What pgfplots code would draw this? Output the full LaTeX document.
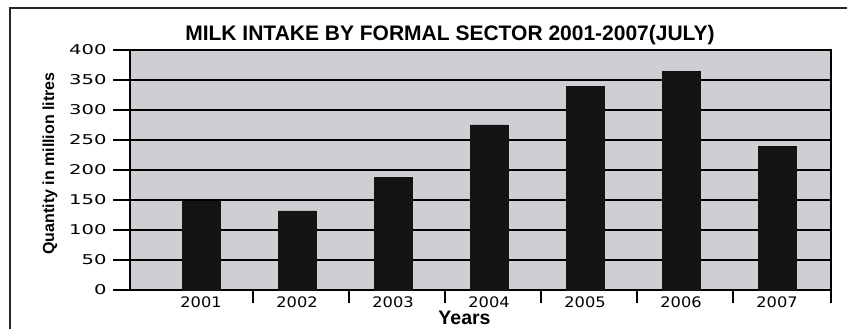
\documentclass[border=0pt]{standalone}
\usepackage{pgfplots}
\pgfplotsset{compat=1.18}
\usepackage{fontspec}
\usepackage{graphicx}
\setmainfont{Liberation Sans}
\newfontfamily\tickfont{DejaVu Sans}
\newcommand\wx[1]{\scalebox{1.12}[1]{#1}}
\definecolor{bgray}{RGB}{206,207,211}
\definecolor{barblk}{RGB}{20,20,20}
\begin{document}
\begin{tikzpicture}[x=1bp,y=1bp]
\useasboundingbox (0,0) rectangle (847,328);
\draw[line width=1.8bp,black!85] (10,-5) -- (10,320) -- (852,320);
\begin{axis}[
  at={(130bp,38bp)}, anchor=south west,
  scale only axis, width=701bp, height=240bp,
  xmin=-0.74, xmax=6.5625, ymin=0, ymax=400,
  axis background/.style={fill=bgray},
  axis line style={line width=1.8bp},
  ytick={0,50,...,400},
  ymajorgrids, major grid style={line width=1.6bp, black},
  xtick={0,...,6},
  xticklabels={\wx{2001},\wx{2002},\wx{2003},\wx{2004},\wx{2005},\wx{2006},\wx{2007}},
  minor xtick={0.54,1.54,2.54,3.54,4.54,5.54,6.5625},
  xtick pos=bottom, ytick pos=left,
  x tick style={draw=none},
  minor x tick style={draw=black, line width=1.6bp},
  minor tick length=13bp,
  y tick style={line width=1.6bp, black},
  major tick length=17bp,
  tick align=outside,
  /pgf/number format/assume math mode=true,
  yticklabel={\scalebox{1.45}[1]{\pgfmathprintnumber{\tick}}},
  yticklabel style={font=\tickfont\fontsize{13.5bp}{14bp}\selectfont, anchor=east, xshift=-3bp},
  xticklabel style={font=\tickfont\fontsize{14.5bp}{15bp}\selectfont, anchor=north, inner sep=1bp, yshift=11.7bp},
  ybar, bar width=38bp, bar shift=0pt,
]
\addplot[fill=barblk, draw=barblk] coordinates {
  (0,148) (1,132) (2,188) (3,275) (4,339) (5,364) (6,239)};
\end{axis}
\node[anchor=base, font=\bfseries\fontsize{21bp}{21bp}\selectfont] at (450,288) {MILK INTAKE BY FORMAL SECTOR 2001-2007(JULY)};
\node[anchor=base, rotate=90, font=\bfseries\fontsize{16bp}{16bp}\selectfont] at (54,164.5) {Quantity in million litres};
\node[anchor=base, inner sep=0pt, font=\bfseries\fontsize{19.5bp}{20bp}\selectfont] at (464.5,3.5) {Years};
\end{tikzpicture}
\end{document}
